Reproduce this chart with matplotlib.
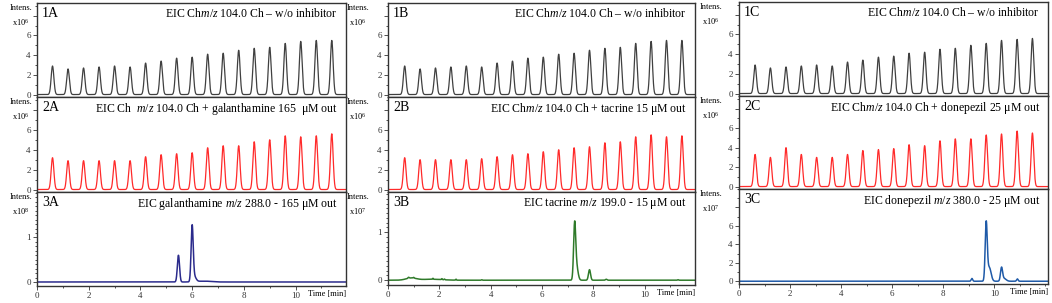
import numpy as np
import matplotlib

matplotlib.use("Agg")
import matplotlib.pyplot as plt
from matplotlib.ticker import MultipleLocator, FixedLocator

plt.rcParams["font.family"] = ["Liberation Serif", "DejaVu Serif"]
plt.rcParams["mathtext.fontset"] = "custom"
plt.rcParams["mathtext.rm"] = "Liberation Serif"
plt.rcParams["mathtext.it"] = "Liberation Serif:italic"

# retention times of the repeated choline injections (min)
ch_times_a = [0.6, 1.2, 1.8, 2.4, 3.0, 3.6, 4.2, 4.8, 5.4, 6.0, 6.6, 7.2, 7.8, 8.4, 9.0, 9.6, 10.2, 10.8, 11.4]
ch_times_b = [0.65, 1.25, 1.85, 2.45, 3.05, 3.65, 4.25, 4.85, 5.45, 6.05, 6.65, 7.25, 7.85, 8.45, 9.05, 9.65, 10.25, 10.85, 11.45]
ch_times_c = [0.63, 1.23, 1.84, 2.44, 3.04, 3.65, 4.25, 4.85, 5.46, 6.06, 6.66, 7.27, 7.87, 8.47, 9.08, 9.68, 10.28, 10.89, 11.49]

# peak heights, x10^6
h_1a = [2.9, 2.6, 2.7, 2.8, 2.9, 2.8, 3.2, 3.4, 3.7, 3.8, 4.1, 4.2, 4.5, 4.7, 4.8, 5.2, 5.4, 5.5, 5.5]
h_1b = [2.9, 2.6, 2.7, 2.8, 2.9, 2.8, 3.2, 3.4, 3.7, 3.8, 4.1, 4.2, 4.5, 4.7, 4.8, 5.2, 5.4, 5.5, 5.5]
h_1c = [2.9, 2.6, 2.7, 2.8, 2.9, 2.8, 3.2, 3.4, 3.7, 3.8, 4.1, 4.2, 4.5, 4.6, 4.9, 5.1, 5.4, 5.5, 5.6]
h_2a = [3.2, 2.9, 2.9, 2.9, 2.9, 2.9, 3.3, 3.5, 3.6, 3.7, 4.2, 4.4, 4.4, 4.8, 5.0, 5.4, 5.3, 5.4, 5.6]
h_2b = [3.2, 3.0, 3.0, 3.0, 3.0, 3.1, 3.3, 3.5, 3.6, 3.8, 4.0, 4.2, 4.3, 4.7, 4.8, 5.3, 5.5, 5.3, 5.4]
h_2c = [3.3, 3.0, 4.0, 3.3, 3.0, 3.0, 3.3, 3.7, 3.8, 3.9, 4.3, 4.2, 4.7, 4.9, 4.9, 5.3, 5.4, 5.7, 5.5]
ch_width = 0.052

# inhibitor EICs: peak centre, height, width
gal_t = [5.47, 6.0, 6.08, 6.45]
gal_h = [0.6, 1.22, 0.12, 0.02]
gal_w = [0.042, 0.04, 0.07, 0.25]

tac_t = [0.9, 1.7, 0.8, 1.0, 1.75, 2.1, 2.2, 2.65, 3.65, 7.27, 7.34, 7.85, 8.5, 11.3]
tac_h = [0.045, 0.02, 0.02, 0.015, 0.02, 0.02, 0.015, 0.02, 0.01, 1.08, 0.3, 0.22, 0.02, 0.01]
tac_w = [0.2, 0.4, 0.02, 0.02, 0.015, 0.015, 0.015, 0.015, 0.015, 0.04, 0.06, 0.04, 0.03, 0.02]

don_t = [9.12, 9.68, 9.8, 10.28, 10.38, 10.9]
don_h = [0.3, 6.2, 1.5, 1.4, 0.3, 0.25]
don_w = [0.03, 0.04, 0.07, 0.04, 0.08, 0.03]

titles = [
    ["EIC Ch$\\mathit{m/z}$ 104.0 Ch \u2013 w/o inhibitor",
     "EIC Ch$\\mathit{m/z}$ 104.0 Ch \u2013 w/o inhibitor",
     "EIC Ch$\\mathit{m/z}$ 104.0 Ch \u2013 w/o inhibitor"],
    ["EIC Ch  $\\mathit{m/z}$ 104.0 Ch + galanthamine 165  \u03bcM out",
     "EIC Ch$\\mathit{m/z}$ 104.0 Ch + tacrine 15 \u03bcM out",
     "EIC Ch$\\mathit{m/z}$ 104.0 Ch + donepezil 25 \u03bcM out"],
    ["EIC galanthamine $\\mathit{m/z}$ 288.0 - 165 \u03bcM out",
     "EIC tacrine $\\mathit{m/z}$ 199.0 - 15 \u03bcM out",
     "EIC donepezil $\\mathit{m/z}$ 380.0 - 25 \u03bcM out"],
]
panel_ids = [["1A", "1B", "1C"], ["2A", "2B", "2C"], ["3A", "3B", "3C"]]
exponents = [["6", "6", "6"], ["6", "6", "6"], ["8", "7", "7"]]


def trace(t, centers, heights, widths):
    y = np.zeros_like(t)
    for c, h, w in zip(centers, heights, widths):
        y += h * np.exp(-0.5 * ((t - c) / w) ** 2)
    return y


W, H = 1052, 303
fig = plt.figure(figsize=(W / 100, H / 100), dpi=100)

# column pixel extents (left, right) and row edges (top, r1/r2, r2/r3, bottom)
cols = [(37, 346), (388, 695), (739, 1048)]
rows = [(3, 97, 192, 286), (3, 97, 192, 285), (2, 96, 189, 284)]
intens_off = [5, 19, 17]
xmax = [11.95, 11.96, 12.1]

t = np.linspace(0, 12.2, 4000)
ch_times = [ch_times_a, ch_times_b, ch_times_c]
row1 = [h_1a, h_1b, h_1c]
row2 = [h_2a, h_2b, h_2c]
row3 = [(gal_t, gal_h, gal_w, "#2b2b8c", (-0.09, 2.02)),
        (tac_t, tac_h, tac_w, "#2f7a2a", (-0.1, 1.84)),
        (don_t, don_h, don_w, "#1f5aa8", (-0.3, 10.0))]

edge = "#333333"
for ci, (x0, x1) in enumerate(cols):
    edges = rows[ci]
    for ri in range(3):
        top, bot = edges[ri], edges[ri + 1]
        ax = fig.add_axes([x0 / W, 1 - bot / H, (x1 - x0) / W, (bot - top) / H])
        if ri == 0:
            y = trace(t, ch_times[ci], row1[ci], [ch_width] * 19)
            ax.plot(t, y, color="#404040", lw=0.9)
            ax.set_ylim(-0.25, 9.3)
        elif ri == 1:
            y = trace(t, ch_times[ci], row2[ci], [ch_width] * 19)
            ax.plot(t, y, color="#ff2a2a", lw=0.9)
            ax.set_ylim(-0.25, 9.3)
        else:
            ct, hh, ww, col, yl = row3[ci]
            y = trace(t, ct, hh, ww)
            ax.plot(t, y, color=col, lw=1.1)
            ax.set_ylim(*yl)
        ax.set_xlim(0, xmax[ci])

        if ri < 2 or ci == 2:
            ax.yaxis.set_major_locator(FixedLocator([0, 2, 4, 6, 8]))
            ax.set_yticklabels(["0", "2", "4", "6", ""])
            ax.yaxis.set_minor_locator(MultipleLocator(1))
        else:
            ax.yaxis.set_major_locator(FixedLocator([0, 1]))
            ax.set_yticklabels(["0", "1"])
            ax.yaxis.set_minor_locator(MultipleLocator(0.1))

        if ri == 2:
            ax.xaxis.set_major_locator(FixedLocator([0, 2, 4, 6, 8, 10]))
            ax.xaxis.set_minor_locator(MultipleLocator(1))
            ax.tick_params(axis="x", which="both", direction="out", labelsize=6.5,
                           length=3, width=0.6, pad=1.5, colors=edge)
            ax.tick_params(axis="x", which="minor", length=1.5)
            ax.text(1.0, -0.04, "Time [min]", transform=ax.transAxes, ha="right",
                    va="top", fontsize=6)
        else:
            ax.set_xticks([])
            ax.xaxis.set_minor_locator(FixedLocator([]))

        ax.tick_params(axis="y", which="both", direction="out", labelsize=6.5,
                       length=3, width=0.6, pad=1.5, colors=edge)
        ax.tick_params(axis="y", which="minor", length=1.5)
        for s in ax.spines.values():
            s.set_color(edge)
            s.set_linewidth(1.0)

        ax.text(5 / (x1 - x0), 1 - 4 / (bot - top), panel_ids[ri][ci],
                transform=ax.transAxes, ha="left", va="top", fontsize=10)
        ax.text(1 - 8 / (x1 - x0), 1 - 4 / (bot - top), titles[ri][ci],
                transform=ax.transAxes, ha="right", va="top", fontsize=8.5)

        # "Intens." and scale factor left of the y axis
        fig.text((x0 - intens_off[ci]) / W, 1 - (top + 1) / H, "Intens.",
                 ha="right", va="top", fontsize=6)
        fig.text((x0 - intens_off[ci] - 3) / W, 1 - (top + 14) / H,
                 "x10$^{%s}$" % exponents[ri][ci], ha="right", va="top", fontsize=6)

fig.savefig("out.png", dpi=100)
